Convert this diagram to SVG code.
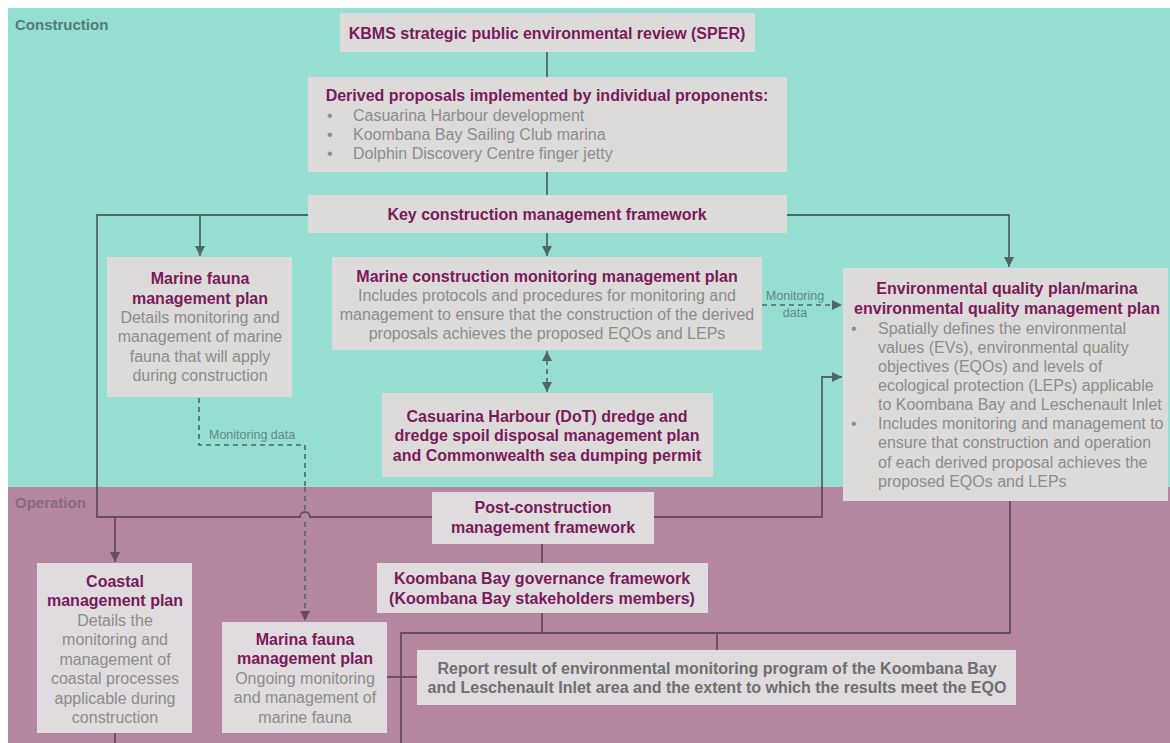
<svg xmlns="http://www.w3.org/2000/svg" width="1170" height="743" viewBox="0 0 1170 743">
  <style>
    .box { fill: #dddbda; }
    .boxp { fill: #dfdbde; }
    text { font-family: "Liberation Sans", Arial, sans-serif; font-size: 16px; }
    .t { font-weight: bold; fill: #7a1a5a; text-anchor: middle; }
    .b { fill: #8c8c8c; text-anchor: middle; }
    .bl { fill: #8c8c8c; }
    .rep { font-weight: bold; fill: #6e6e6e; text-anchor: middle; }
    .phase { font-weight: bold; font-size: 15px; }
    .lbl { font-size: 12.5px; fill: #5a8a84; }
    .ln { fill: none; stroke: #4e6867; stroke-width: 1.8; }
    .lnp { fill: none; stroke: #654c60; stroke-width: 1.8; }
    .dash { fill: none; stroke: #4e6867; stroke-width: 1.6; stroke-dasharray: 5 4; }
  </style>
  <defs>
    <marker id="arr" viewBox="0 0 10 10" refX="10" refY="5" markerWidth="10" markerHeight="10" markerUnits="userSpaceOnUse" orient="auto-start-reverse">
      <path d="M0,0 L10,5 L0,10 z" fill="#4e6867"/>
    </marker>
    <marker id="arrp" viewBox="0 0 10 10" refX="10" refY="5" markerWidth="10" markerHeight="10" markerUnits="userSpaceOnUse" orient="auto">
      <path d="M0,0 L10,5 L0,10 z" fill="#654c60"/>
    </marker>
  </defs>

  <!-- page and phase bands -->
  <rect x="0" y="0" width="1170" height="743" fill="#ffffff"/>
  <rect x="8" y="8" width="1162" height="479" fill="#97ded2"/>
  <rect x="8" y="487" width="1162" height="256" fill="#b5869f"/>
  <text class="phase" x="15" y="30" fill="#4f7d78">Construction</text>
  <text class="phase" x="15" y="508" fill="#8a6680">Operation</text>

  <!-- connectors -->
  <g id="connectors">
    <line class="ln" x1="547" y1="52" x2="547" y2="77"/>
    <line class="ln" x1="547" y1="172" x2="547" y2="195"/>
    <path class="ln" d="M308,215 H97 V487"/>
    <path class="lnp" d="M97,487 V517 H300 A5,5 0 0 1 310,517 H432"/>
    <path class="ln" d="M200,215 V256" marker-end="url(#arr)"/>
    <path class="ln" d="M547,233 V256" marker-end="url(#arr)"/>
    <path class="ln" d="M787,215 H1009 V267" marker-end="url(#arr)"/>
    <path class="lnp" d="M115,517 V562" marker-end="url(#arrp)"/>
    <path class="lnp" d="M654,517 H822 V487"/>
    <path class="ln" d="M822,487 V377 H842" marker-end="url(#arr)"/>
    <path class="dash" d="M547,351 V392" marker-start="url(#arr)" marker-end="url(#arr)"/>
    <path class="dash" d="M762,305 H842" marker-end="url(#arr)"/>
    <path class="dash" d="M199,398 V445 H305 V487"/>
    <path class="dash" d="M305,487 V512 M305,522 V621" stroke="#654c60" marker-end="url(#arrp)"/>
    <line class="lnp" x1="542" y1="544" x2="542" y2="563"/>
    <line class="lnp" x1="542" y1="613" x2="542" y2="633"/>
    <path class="lnp" d="M401,743 V633 H1010 V501"/>
    <line class="lnp" x1="717" y1="633" x2="717" y2="650"/>
    <line class="lnp" x1="387" y1="677" x2="417" y2="677"/>
    <line class="lnp" x1="115" y1="733" x2="115" y2="743"/>
    <text class="lbl" x="795" y="300" text-anchor="middle">Monitoring</text>
    <text class="lbl" x="795" y="317" text-anchor="middle">data</text>
    <text class="lbl" x="209" y="439" font-size="13">Monitoring data</text>
  </g>

  <!-- nodes -->
  <g id="sper">
    <rect class="box" x="340" y="13" width="415" height="39"/>
    <text class="t" x="547" y="38.5">KBMS strategic public environmental review (SPER)</text>
  </g>

  <g id="derived-proposals">
    <rect class="box" x="308" y="77" width="479" height="95"/>
    <text class="t" x="547" y="100.5">Derived proposals implemented by individual proponents:</text>
    <text class="bl" x="327" y="120.5">•</text>
    <text class="bl" x="353" y="120.5">Casuarina Harbour development</text>
    <text class="bl" x="327" y="139.5">•</text>
    <text class="bl" x="353" y="139.5">Koombana Bay Sailing Club marina</text>
    <text class="bl" x="327" y="158.5">•</text>
    <text class="bl" x="353" y="158.5">Dolphin Discovery Centre finger jetty</text>
  </g>

  <g id="key-construction-framework">
    <rect class="box" x="308" y="195" width="479" height="38"/>
    <text class="t" x="547" y="219.5">Key construction management framework</text>
  </g>

  <g id="marine-fauna-plan">
    <rect class="box" x="107" y="257" width="185" height="140"/>
    <text class="t" x="200" y="283.5">Marine fauna</text>
    <text class="t" x="200" y="303.5">management plan</text>
    <text class="b" x="200" y="322.5">Details monitoring and</text>
    <text class="b" x="200" y="342">management of marine</text>
    <text class="b" x="200" y="361.5">fauna that will apply</text>
    <text class="b" x="200" y="381">during construction</text>
  </g>

  <g id="marine-construction-plan">
    <rect class="box" x="332" y="257" width="430" height="93"/>
    <text class="t" x="547" y="281.5">Marine construction monitoring management plan</text>
    <text class="b" x="547" y="300.5">Includes protocols and procedures for monitoring and</text>
    <text class="b" x="547" y="319.5">management to ensure that the construction of the derived</text>
    <text class="b" x="547" y="338.5">proposals achieves the proposed EQOs and LEPs</text>
  </g>

  <g id="casuarina-dredge-plan">
    <rect class="box" x="382" y="393" width="331" height="84"/>
    <text class="t" x="547" y="421.5">Casuarina Harbour (DoT) dredge and</text>
    <text class="t" x="547" y="441">dredge spoil disposal management plan</text>
    <text class="t" x="547" y="460.5">and Commonwealth sea dumping permit</text>
  </g>

  <g id="environmental-quality-plan">
    <rect class="box" x="843" y="268" width="325" height="233"/>
    <text class="t" x="1007" y="293.5">Environmental quality plan/marina</text>
    <text class="t" x="1007" y="313.5">environmental quality management plan</text>
    <text class="bl" x="851" y="333.5">•</text>
    <text class="bl" x="878" y="333.5">Spatially defines the environmental</text>
    <text class="bl" x="878" y="352.5">values (EVs), environmental quality</text>
    <text class="bl" x="878" y="371.5">objectives (EQOs) and levels of</text>
    <text class="bl" x="878" y="390.5">ecological protection (LEPs) applicable</text>
    <text class="bl" x="878" y="409.5">to Koombana Bay and Leschenault Inlet</text>
    <text class="bl" x="851" y="429">•</text>
    <text class="bl" x="878" y="429">Includes monitoring and management to</text>
    <text class="bl" x="878" y="448">ensure that construction and operation</text>
    <text class="bl" x="878" y="467.5">of each derived proposal achieves the</text>
    <text class="bl" x="878" y="486.5">proposed EQOs and LEPs</text>
  </g>

  <g id="post-construction-framework">
    <rect class="boxp" x="432" y="492" width="222" height="52"/>
    <text class="t" x="543" y="512.5">Post-construction</text>
    <text class="t" x="543" y="532.5">management framework</text>
  </g>

  <g id="governance-framework">
    <rect class="boxp" x="377" y="563" width="331" height="50"/>
    <text class="t" x="542" y="583.5">Koombana Bay governance framework</text>
    <text class="t" x="542" y="603.5">(Koombana Bay stakeholders members)</text>
  </g>

  <g id="coastal-plan">
    <rect class="boxp" x="37" y="563" width="155" height="170"/>
    <text class="t" x="115" y="586.5">Coastal</text>
    <text class="t" x="115" y="606">management plan</text>
    <text class="b" x="115" y="625.5">Details the</text>
    <text class="b" x="115" y="645">monitoring and</text>
    <text class="b" x="115" y="664.5">management of</text>
    <text class="b" x="115" y="684">coastal processes</text>
    <text class="b" x="115" y="703.5">applicable during</text>
    <text class="b" x="115" y="723">construction</text>
  </g>

  <g id="marina-fauna-plan">
    <rect class="boxp" x="222" y="622" width="165" height="111"/>
    <text class="t" x="305" y="644.5">Marina fauna</text>
    <text class="t" x="305" y="664">management plan</text>
    <text class="b" x="305" y="683.5">Ongoing monitoring</text>
    <text class="b" x="305" y="703">and management of</text>
    <text class="b" x="305" y="722.5">marine fauna</text>
  </g>

  <g id="monitoring-report">
    <rect class="boxp" x="417" y="650" width="599" height="55"/>
    <text class="rep" x="717" y="673.5">Report result of environmental monitoring program of the Koombana Bay</text>
    <text class="rep" x="717" y="692.5">and Leschenault Inlet area and the extent to which the results meet the EQO</text>
  </g>
</svg>
